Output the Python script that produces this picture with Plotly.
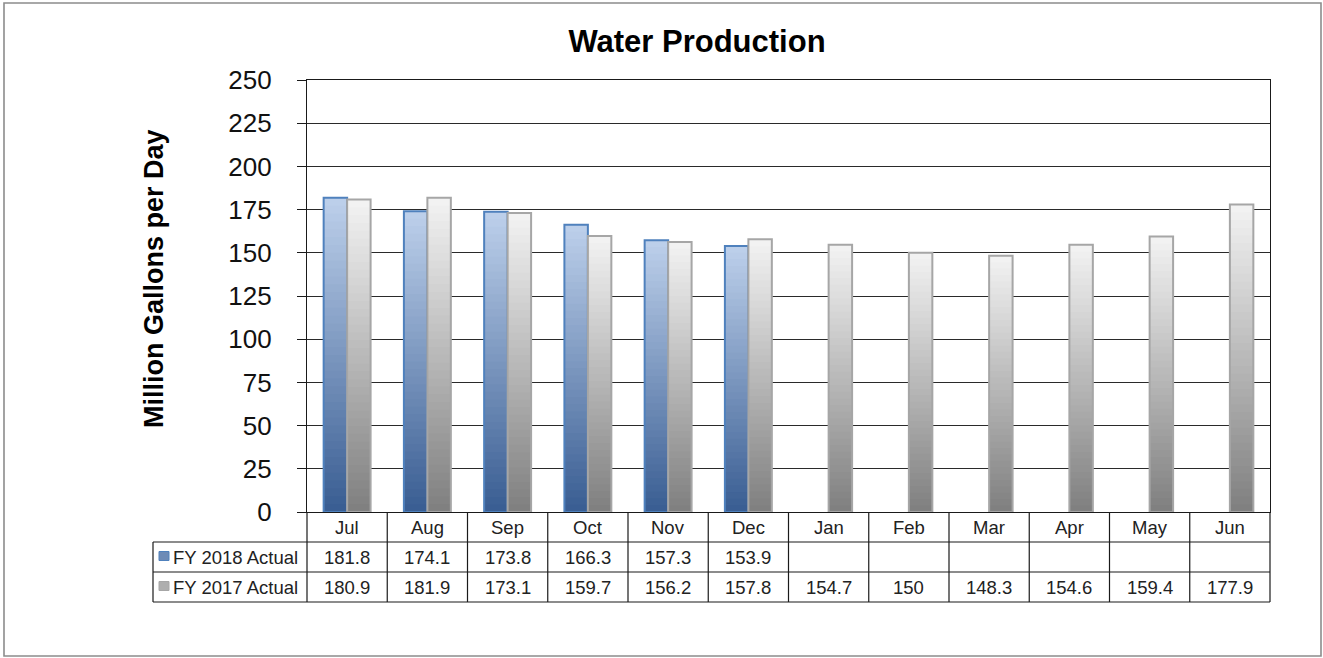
import plotly.graph_objects as go

# ---- data ----
months = ["Jul", "Aug", "Sep", "Oct", "Nov", "Dec",
          "Jan", "Feb", "Mar", "Apr", "May", "Jun"]
fy2018 = [181.8, 174.1, 173.8, 166.3, 157.3, 153.9,
          None, None, None, None, None, None]
fy2017 = [180.9, 181.9, 173.1, 159.7, 156.2, 157.8,
          154.7, 150, 148.3, 154.6, 159.4, 177.9]
series_names = ["FY 2018 Actual", "FY 2017 Actual"]
y_ticks = [0, 25, 50, 75, 100, 125, 150, 175, 200, 225, 250]

# ---- canvas geometry (pixels) ----
WIDTH, HEIGHT = 1323, 658
L, R, T, B = 307, 1270, 80, 512          # plot area edges
PW, PH = R - L, B - T


def px(x):
    return (x - L) / PW


def py(y):
    return (B - y) / PH


def lerp_color(c0, c1, t):
    a = [int(c0[i:i + 2], 16) for i in (1, 3, 5)]
    b = [int(c1[i:i + 2], 16) for i in (1, 3, 5)]
    return "rgb(%d,%d,%d)" % tuple(round(a[i] + (b[i] - a[i]) * t) for i in range(3))


styles = [
    # top colour, bottom colour, outline
    ("#bccfea", "#3a5e93", "#4f81bd"),
    ("#f2f2f2", "#808080", "#a6a6a6"),
]

fig = go.Figure()
N = 40  # gradient steps per bar
for s, (vals, (top, bottom, edge)) in enumerate(zip([fy2018, fy2017], styles)):
    group = "g%d" % s
    # overlapping bars, tallest first, each one a shade darker -> vertical gradient
    for k in range(N):
        frac = 1 - k / N
        fig.add_trace(go.Bar(
            x=months,
            y=[v * frac if v is not None else None for v in vals],
            base=0,
            offsetgroup=group,
            marker=dict(color=lerp_color(top, bottom, k / (N - 1)), line=dict(width=0)),
            showlegend=False, hoverinfo="skip",
        ))
    fig.add_trace(go.Bar(
        x=months, y=vals, base=0, offsetgroup=group,
        name=series_names[s],
        marker=dict(color="rgba(0,0,0,0)", line=dict(color=edge, width=2)),
        showlegend=False, hoverinfo="skip",
    ))

line_col = "#1a1a1a"
shapes = []
# outer frame
shapes.append(dict(type="rect", xref="paper", yref="paper",
                   x0=px(4), x1=px(1321), y0=py(3), y1=py(656),
                   line=dict(color="#8c8c8c", width=1.6), layer="below"))
# data table grid
row_edges = [542, 572, 602]
for yy in row_edges:
    shapes.append(dict(type="line", xref="paper", yref="paper",
                       x0=px(153), x1=1, y0=py(yy), y1=py(yy),
                       line=dict(color=line_col, width=1.2)))
shapes.append(dict(type="line", xref="paper", yref="paper",
                   x0=px(153), x1=px(153), y0=py(542), y1=py(602),
                   line=dict(color=line_col, width=1.2)))
for k in range(len(months) + 1):
    xf = k / len(months)
    shapes.append(dict(type="line", xref="paper", yref="paper",
                       x0=xf, x1=xf, y0=0, y1=py(602),
                       line=dict(color=line_col, width=1.2)))
# legend keys inside the table header column
for i, (top, bottom, edge) in enumerate(styles):
    yc = 556 + 30 * i
    shapes.append(dict(type="rect", xref="paper", yref="paper",
                       x0=px(159), x1=px(169), y0=py(yc - 4.5), y1=py(yc + 4.5),
                       fillcolor=lerp_color(top, bottom, 0.6),
                       line=dict(color=edge, width=1)))

annotations = []
tfont = dict(family="Liberation Sans, Arial, sans-serif", size=18.5, color="#222222")
for m in months:
    annotations.append(dict(x=m, xref="x", y=py(527), yref="paper", text=m,
                            showarrow=False, font=tfont,
                            xanchor="center", yanchor="middle"))
for i, vals in enumerate([fy2018, fy2017]):
    yc = py(557 + 30 * i)
    annotations.append(dict(x=px(171), xref="paper", y=yc, yref="paper",
                            text=series_names[i], showarrow=False, font=tfont,
                            xanchor="left", yanchor="middle"))
    for m, v in zip(months, vals):
        if v is None:
            continue
        annotations.append(dict(x=m, xref="x", y=yc, yref="paper",
                                text=f"{v:g}", showarrow=False, font=tfont,
                                xanchor="center", yanchor="middle"))
# axis title
annotations.append(dict(x=px(154), xref="paper", y=py(279), yref="paper",
                        text="<b>Million Gallons per Day</b>", textangle=-90,
                        showarrow=False,
                        font=dict(family="Liberation Sans Narrow, Arial Narrow, Liberation Sans, sans-serif",
                                  size=27, color="#000000"),
                        xanchor="center", yanchor="middle"))

fig.update_layout(
    width=WIDTH, height=HEIGHT,
    margin=dict(l=L, r=WIDTH - R, t=T, b=HEIGHT - B, pad=0),
    paper_bgcolor="white", plot_bgcolor="white",
    barmode="group", bargap=0.415, bargroupgap=0,
    showlegend=False,
    title=dict(text="<b>Water Production</b>", x=697 / WIDTH, xanchor="center",
               xref="container", yref="container", y=1 - 41 / HEIGHT, yanchor="middle",
               font=dict(family="Liberation Sans Narrow, Arial Narrow, Liberation Sans, sans-serif",
                         size=31, color="#000000")),
    xaxis=dict(type="category", categoryorder="array", categoryarray=months,
               showticklabels=False, ticks="", showgrid=False, zeroline=False,
               showline=True, linecolor=line_col, linewidth=1.2, mirror=True,
               range=[-0.5, len(months) - 0.5]),
    yaxis=dict(range=[0, 250], tickvals=y_ticks, ticks="outside", ticklen=9,
               tickcolor=line_col, tickwidth=1.2, ticklabelstandoff=20,
               tickfont=dict(family="Liberation Sans, Arial, sans-serif", size=26, color="#111111"),
               showgrid=True, gridcolor="#2a2a2a", gridwidth=1.2, zeroline=False,
               showline=True, linecolor=line_col, linewidth=1.2, mirror=True),
    shapes=shapes, annotations=annotations,
)

fig.write_html("out.html")
